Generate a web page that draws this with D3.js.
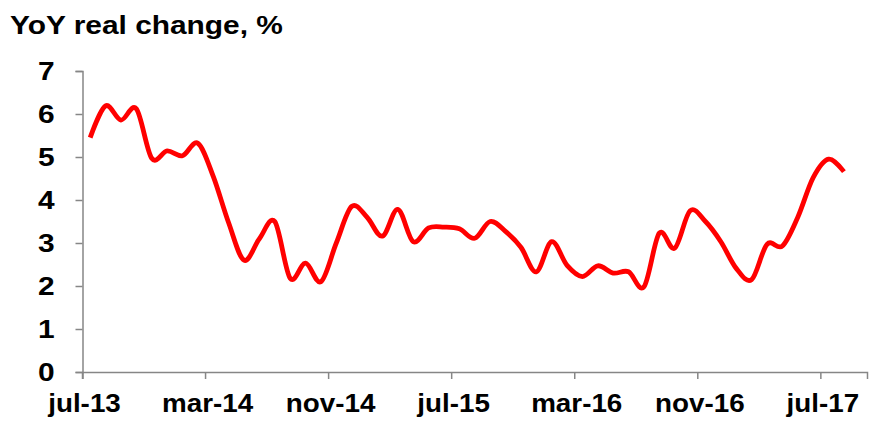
<!DOCTYPE html>
<html>
<head>
<meta charset="utf-8">
<script src="https://cdn.jsdelivr.net/npm/d3@7"></script>
<style>
  html, body { margin: 0; padding: 0; background: #fff; }
  svg { display: block; font-family: 'Liberation Sans', Arial, sans-serif; }
</style>
</head>
<body>
<div id="chart"></div>
<script>
// Monthly categories, jul-13 .. aug-17
const months = d3.timeMonth.range(new Date(2013, 6, 1), new Date(2017, 8, 1))
  .map(d => d3.timeFormat('%b-%y')(d).toLowerCase());

// YoY real change, %
const values = [
  5.45, 6.19, 5.86, 6.12, 4.97, 5.14, 5.03, 5.32, 4.55, 3.47,
  2.6, 3.1, 3.5, 2.18, 2.53, 2.1, 3.0, 3.85, 3.6, 3.16,
  3.78, 3.03, 3.35, 3.37, 3.33, 3.11, 3.5, 3.27, 2.9, 2.33,
  3.03, 2.48, 2.22, 2.47, 2.3, 2.33, 1.98, 3.23, 2.88, 3.75,
  3.5, 3.03, 2.41, 2.15, 2.97, 2.93, 3.6, 4.52, 4.95, 4.66
];

const yTicks = [0, 1, 2, 3, 4, 5, 6, 7];
const tickLabels = ['jul-13', 'mar-14', 'nov-14', 'jul-15', 'mar-16', 'nov-16', 'jul-17'];

const width = 884, height = 422;
const margin = { top: 71, right: 17, bottom: 50, left: 82.5 };
const fontSize = 26;
const stretch = 1.15;   // the original lettering is a bit wider than Arial
const xStretch = 1.07;  // month labels are a little narrower than the title

const svg = d3.select('#chart').append('svg')
  .attr('width', width)
  .attr('height', height);

svg.append('rect')
  .attr('width', width)
  .attr('height', height)
  .attr('fill', '#fff');

// one spare category at the end, like the original axis
const x = d3.scaleBand()
  .domain(d3.range(months.length + 1))
  .range([margin.left, width - margin.right]);

const y = d3.scaleLinear()
  .domain([0, 7])
  .range([height - margin.bottom, margin.top]);

const axisColor = '#868686';

// Title
svg.append('text')
  .attr('transform', `translate(10,34) scale(${stretch},1)`)
  .attr('font-size', fontSize + 'px')
  .attr('font-weight', 'bold')
  .attr('fill', '#000')
  .text('YoY real change, %');

// Y axis
const yAxis = svg.append('g')
  .attr('transform', `translate(${margin.left},0)`)
  .call(d3.axisLeft(y).tickValues(yTicks).tickSize(7).tickPadding(21).tickFormat(d3.format('d')));

yAxis.select('.domain')
  .attr('stroke', axisColor)
  .attr('stroke-width', 1.5);

yAxis.selectAll('.tick line')
  .attr('stroke', axisColor)
  .attr('stroke-width', 1.5);

yAxis.selectAll('.tick text')
  .attr('x', -28 / stretch)
  .attr('transform', `scale(${stretch},1)`)
  .attr('font-size', fontSize + 'px')
  .attr('font-weight', 'bold')
  .attr('font-family', "'Liberation Sans', Arial, sans-serif")
  .attr('fill', '#000');

// X axis (ticks every 8 months)
const tickIdx = months.map((m, i) => i).filter(i => tickLabels.includes(months[i]));

const xAxis = svg.append('g')
  .attr('transform', `translate(0,${y(0)})`)
  .call(d3.axisBottom(x)
    .tickValues(tickIdx)
    .tickSize(7)
    .tickPadding(15)
    .tickFormat(i => months[i]));

// move ticks onto the category boundaries
xAxis.selectAll('.tick')
  .attr('transform', i => `translate(${x(i)},0)`);

xAxis.select('.domain')
  .attr('stroke', axisColor)
  .attr('stroke-width', 1.5);

xAxis.selectAll('.tick line')
  .attr('stroke', axisColor)
  .attr('stroke-width', 1.5);

xAxis.selectAll('.tick text')
  .attr('x', 2 / xStretch)
  .attr('transform', `scale(${xStretch},1)`)
  .attr('font-size', fontSize + 'px')
  .attr('font-weight', 'bold')
  .attr('font-family', "'Liberation Sans', Arial, sans-serif")
  .attr('fill', '#000');

// Smoothed line
const line = d3.line()
  .x((d, i) => x(i) + x.bandwidth() / 2)
  .y(d => y(d))
  .curve(d3.curveCardinal.tension(0));

svg.append('path')
  .datum(values)
  .attr('fill', 'none')
  .attr('stroke', '#ff0000')
  .attr('stroke-width', 4.8)
  .attr('stroke-linejoin', 'round')
  .attr('d', line);
</script>
</body>
</html>
